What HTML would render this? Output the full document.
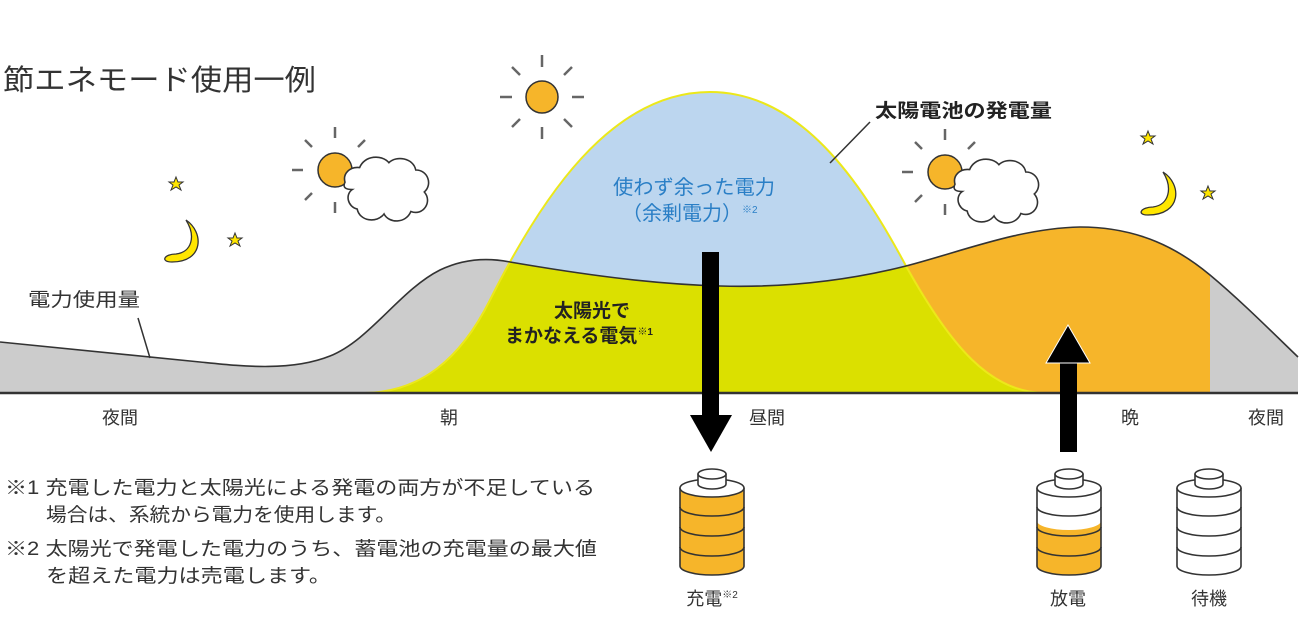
<!DOCTYPE html>
<html><head><meta charset="utf-8"><style>
body{margin:0;background:#fff;}
svg{display:block;}
text{font-family:"Liberation Sans","Noto Sans CJK JP",sans-serif;}
</style></head><body>
<svg width="1301" height="617" viewBox="0 0 1301 617" xmlns="http://www.w3.org/2000/svg">
<defs>
<clipPath id="cons"><path d="M0,342 C80,350 160,358 200,362 C240,366 290,372 330,356 C370,340 400,290 440,270 C465,258 490,258 510,262 C580,274 650,284 720,286 C790,288 850,280 906,266 C960,252 1020,228 1080,227 C1140,227 1180,250 1210,275 C1240,300 1270,330 1298,357 L1298,393 L0,393 Z"/></clipPath>
<clipPath id="orx"><rect x="880" y="0" width="330" height="400"/></clipPath>
<g id="sc">
<g stroke="#666" stroke-width="2.5">
<line x1="0" y1="-43" x2="0" y2="-32"/><line x1="0" y1="32" x2="0" y2="43"/>
<line x1="-43" y1="0" x2="-32" y2="0"/>
<line x1="-30" y1="-30" x2="-23" y2="-23"/><line x1="30" y1="-30" x2="23" y2="-23"/>
<line x1="-30" y1="30" x2="-23" y2="23"/>
</g>
<circle cx="0" cy="0" r="17" fill="#f6b52a" stroke="#333" stroke-width="1.5"/>
<g transform="translate(10,0) scale(1.22) translate(-10,0)">
<path d="M10,10 C8,3 14,-3 22,-2 C26,-12 40,-13 46,-6 C52,-12 66,-10 68,0 C78,0 82,12 75,18 C82,26 74,38 64,34 C60,44 46,44 42,36 C36,44 22,42 20,32 C12,30 10,20 16,16 C10,16 8,14 10,10 Z" fill="#fff" stroke="#333" stroke-width="1.3"/>
</g>
</g>
<g id="bat" stroke="#333" stroke-width="1.6" fill="none">
<path d="M0,488 L0,566 A32,9 0 0 0 64,566 L64,488" fill="#fff"/>
<ellipse cx="32" cy="488" rx="32" ry="9" fill="#fff"/>
<path d="M0,507 A32,9 0 0 0 64,507"/><path d="M0,527 A32,9 0 0 0 64,527"/><path d="M0,547 A32,9 0 0 0 64,547"/>
<path d="M18,474 L18,484 A14,5 0 0 0 46,484 L46,474" fill="#fff"/>
<ellipse cx="32" cy="474" rx="14" ry="5" fill="#fff"/>
</g>
</defs>
<path d="M365,393 C420,392 460,360 490,300 C540,200 610,92 710,92 C800,92 860,180 906,266 C950,345 990,393 1045,393 Z" fill="#bcd6ef"/>
<path d="M0,342 C80,350 160,358 200,362 C240,366 290,372 330,356 C370,340 400,290 440,270 C465,258 490,258 510,262 C580,274 650,284 720,286 C790,288 850,280 906,266 C960,252 1020,228 1080,227 C1140,227 1180,250 1210,275 C1240,300 1270,330 1298,357 L1298,393 L0,393 Z" fill="#cccccc"/>
<g clip-path="url(#orx)"><path d="M0,342 C80,350 160,358 200,362 C240,366 290,372 330,356 C370,340 400,290 440,270 C465,258 490,258 510,262 C580,274 650,284 720,286 C790,288 850,280 906,266 C960,252 1020,228 1080,227 C1140,227 1180,250 1210,275 C1240,300 1270,330 1298,357 L1298,393 L0,393 Z" fill="#f6b52a"/></g>
<g clip-path="url(#cons)"><path d="M365,393 C420,392 460,360 490,300 C540,200 610,92 710,92 C800,92 860,180 906,266 C950,345 990,393 1045,393 Z" fill="#dbe000"/></g>
<path d="M365,393 C420,392 460,360 490,300 C540,200 610,92 710,92 C800,92 860,180 906,266 C950,345 990,393 1045,393" fill="none" stroke="#ece81a" stroke-width="2"/>
<path d="M0,342 C80,350 160,358 200,362 C240,366 290,372 330,356 C370,340 400,290 440,270 C465,258 490,258 510,262 C580,274 650,284 720,286 C790,288 850,280 906,266 C960,252 1020,228 1080,227 C1140,227 1180,250 1210,275 C1240,300 1270,330 1298,357" fill="none" stroke="#333" stroke-width="1.6"/>
<line x1="0" y1="393" x2="1298" y2="393" stroke="#333" stroke-width="2.5"/>
<line x1="138" y1="318" x2="150" y2="358" stroke="#333" stroke-width="1.5"/>
<line x1="870" y1="122" x2="830" y2="163" stroke="#333" stroke-width="1.5"/>
<rect x="702" y="252" width="17" height="165" fill="#000"/>
<polygon points="690,415 732,415 711,452" fill="#000"/>
<rect x="1060" y="362" width="17" height="90" fill="#000"/>
<polygon points="1046,363 1090,363 1068,325" fill="#000" stroke="#fff" stroke-width="1"/>
<g stroke="#666" stroke-width="2.5">
<line x1="542" y1="55" x2="542" y2="67"/><line x1="542" y1="127" x2="542" y2="139"/>
<line x1="500" y1="97" x2="512" y2="97"/><line x1="572" y1="97" x2="584" y2="97"/>
<line x1="512" y1="67" x2="520" y2="75"/><line x1="564" y1="119" x2="572" y2="127"/>
<line x1="572" y1="67" x2="564" y2="75"/><line x1="520" y1="119" x2="512" y2="127"/>
</g>
<circle cx="542" cy="97" r="16" fill="#f6b52a" stroke="#333" stroke-width="1.5"/>
<use href="#sc" x="335" y="170"/>
<use href="#sc" x="945" y="172"/>
<path d="M186,220 C204,232 204,262 172,262 C160,262 164,254 176,254 C192,252 196,236 186,220 Z" fill="#ffe600" stroke="#333" stroke-width="1.3"/>
<path d="M1163,172 C1182,184 1182,215 1148,215 C1136,215 1141,207 1153,207 C1169,205 1173,188 1163,172 Z" fill="#ffe600" stroke="#333" stroke-width="1.3"/>
<g fill="#ffe600" stroke="#333" stroke-width="1">
<polygon transform="translate(176,184)" points="0,-7 2,-2 7,-2 3,1 5,6 0,3 -5,6 -3,1 -7,-2 -2,-2"/>
<polygon transform="translate(235,240)" points="0,-7 2,-2 7,-2 3,1 5,6 0,3 -5,6 -3,1 -7,-2 -2,-2"/>
<polygon transform="translate(1148,138)" points="0,-7 2,-2 7,-2 3,1 5,6 0,3 -5,6 -3,1 -7,-2 -2,-2"/>
<polygon transform="translate(1208,193)" points="0,-7 2,-2 7,-2 3,1 5,6 0,3 -5,6 -3,1 -7,-2 -2,-2"/>
</g>
<g transform="translate(680,0)">
<path d="M0,488 A32,9 0 0 0 64,488 L64,566 A32,9 0 0 1 0,566 Z" fill="#f6b52a"/>
<g stroke="#333" stroke-width="1.6" fill="none">
<path d="M0,488 L0,566 A32,9 0 0 0 64,566 L64,488"/>
<ellipse cx="32" cy="488" rx="32" ry="9" fill="#fff"/>
<path d="M0,507 A32,9 0 0 0 64,507"/><path d="M0,527 A32,9 0 0 0 64,527"/><path d="M0,547 A32,9 0 0 0 64,547"/>
<path d="M18,474 L18,484 A14,5 0 0 0 46,484 L46,474" fill="#fff"/>
<ellipse cx="32" cy="474" rx="14" ry="5" fill="#fff"/>
</g></g>
<g transform="translate(1037,0)">
<path d="M0,488 L0,566 A32,9 0 0 0 64,566 L64,488 A32,9 0 0 1 0,488 Z" fill="#fff"/>
<path d="M0,521 A32,9 0 0 0 64,521 L64,566 A32,9 0 0 1 0,566 Z" fill="#f6b52a"/>
<g stroke="#333" stroke-width="1.6" fill="none">
<path d="M0,488 L0,566 A32,9 0 0 0 64,566 L64,488"/>
<ellipse cx="32" cy="488" rx="32" ry="9" fill="#fff"/>
<path d="M0,507 A32,9 0 0 0 64,507"/><path d="M0,527 A32,9 0 0 0 64,527"/><path d="M0,547 A32,9 0 0 0 64,547"/>
<path d="M18,474 L18,484 A14,5 0 0 0 46,484 L46,474" fill="#fff"/>
<ellipse cx="32" cy="474" rx="14" ry="5" fill="#fff"/>
</g></g>
<use href="#bat" x="1177" y="0"/>
<text x="3" y="90" font-size="29" fill="#333" textLength="313" lengthAdjust="spacingAndGlyphs">節エネモード使用一例</text>
<text x="28" y="306" font-size="19" fill="#333" textLength="112" lengthAdjust="spacingAndGlyphs">電力使用量</text>
<text x="875" y="117" font-size="19" font-weight="bold" fill="#222" textLength="177" lengthAdjust="spacingAndGlyphs">太陽電池の発電量</text>
<text x="613" y="194" font-size="20" fill="#2a7fc6" textLength="162" lengthAdjust="spacingAndGlyphs">使わず余った電力</text>
<text x="622" y="220" font-size="20" fill="#2a7fc6">（余剰電力）<tspan font-size="10" dy="-7">※2</tspan></text>
<text x="592" y="317" font-size="19" font-weight="bold" fill="#222" text-anchor="middle">太陽光で</text>
<text x="505" y="342" font-size="19" font-weight="bold" fill="#222">まかなえる電気<tspan font-size="10" dy="-7">※1</tspan></text>
<g font-size="18" fill="#333" text-anchor="middle">
<text x="120" y="424">夜間</text><text x="449" y="424">朝</text><text x="767" y="424">昼間</text><text x="1130" y="424">晩</text><text x="1266" y="424">夜間</text>
<text x="712" y="605">充電<tspan font-size="10" dy="-7">※2</tspan></text>
<text x="1068" y="605">放電</text><text x="1209" y="605">待機</text>
</g>
<g font-size="19" fill="#333" lengthAdjust="spacingAndGlyphs">
<text x="5" y="494" textLength="590" lengthAdjust="spacingAndGlyphs">※1 充電した電力と太陽光による発電の両方が不足している</text>
<text x="46" y="521" textLength="350" lengthAdjust="spacingAndGlyphs">場合は、系統から電力を使用します。</text>
<text x="5" y="555" textLength="592" lengthAdjust="spacingAndGlyphs">※2 太陽光で発電した電力のうち、蓄電池の充電量の最大値</text>
<text x="46" y="582" textLength="285" lengthAdjust="spacingAndGlyphs">を超えた電力は売電します。</text>
</g>
</svg>
</body></html>
